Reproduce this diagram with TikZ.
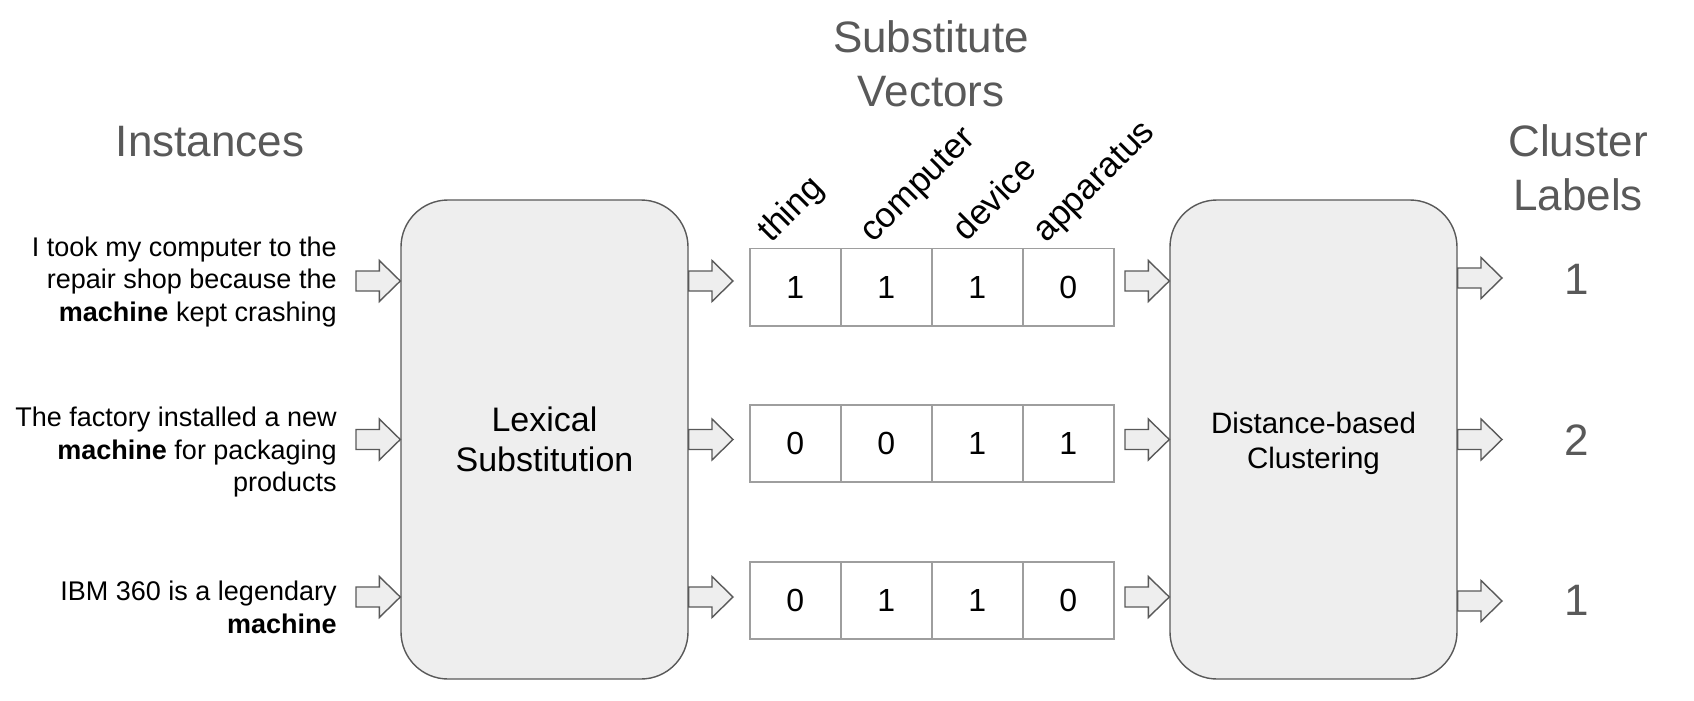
\documentclass[tikz,border=0pt]{standalone}
\usepackage{fontspec}
\setmainfont{Liberation Sans}
\usetikzlibrary{calc}
\definecolor{tgray}{HTML}{595959}
\definecolor{bfill}{HTML}{EEEEEE}
\definecolor{cellline}{HTML}{9E9E9E}
\newcommand{\blockarrow}[2]{%
  \draw[barrow] let \p1=(#1), \p2=(#2) in
    (\x1,\y2+5pt) -- (\x2-10.5pt,\y2+5pt) -- (\x2-10.5pt,\y2+10.25pt) -- (\x2,\y2)
    -- (\x2-10.5pt,\y2-10.25pt) -- (\x2-10.5pt,\y2-5pt) -- (\x1,\y2-5pt) -- cycle;}
\begin{document}
\begin{tikzpicture}[x=0.5pt,y=-0.5pt,
  title/.style={text=tgray, font=\fontsize{22}{26}\selectfont, inner sep=0, align=center},
  procbox/.style={draw=tgray, fill=bfill, line width=0.7pt, rounded corners=23.5pt,
    minimum width=143.5pt, minimum height=239.5pt, align=center, inner sep=0},
  boxtext/.style={align=center, inner sep=0},
  cellbox/.style={draw=cellline, line width=0.75pt, minimum width=45.5pt, minimum height=38.5pt,
    inner sep=0, anchor=north west, font=\fontsize{16}{19}\selectfont},
  inst/.style={font=\fontsize{13.5}{16.25}\selectfont, align=right, inner sep=0, anchor=north east},
  rotlab/.style={rotate=45, anchor=base west, inner sep=0, font=\fontsize{17.5}{21}\selectfont},
  clab/.style={text=tgray, font=\fontsize{22}{26}\selectfont, inner sep=0},
  barrow/.style={draw=tgray, fill=bfill, line width=0.7pt, line join=miter}
]
\useasboundingbox (0,0) rectangle (1694,701);

% titles
\node[title, anchor=base] (tinst) at (210,156) {Instances};
\node[title, anchor=north, font=\fontsize{22}{27}\selectfont] (tvec) at (931,14.2) {\strut Substitute\\\strut Vectors};
\node[title, anchor=north, font=\fontsize{22}{27}\selectfont] (tlab) at (1578,118.2) {\strut Cluster\\\strut Labels};

% instances
\node[inst] (s1) at (337,233) {\strut I took my computer to the\\\strut repair shop because the\\\strut\textbf{machine} kept crashing};
\node[inst] (s2) at (337,403.5) {\strut The factory installed a new\\\strut\textbf{machine} for packaging\\\strut products};
\node[inst] (s3) at (337,577.5) {\strut IBM 360 is a legendary\\\strut\textbf{machine}};

% process boxes
\node[procbox] (lex) at (544.5,439.5) {};
\node[boxtext, font=\fontsize{17}{19.7}\selectfont] (lextext) at (lex.center) {Lexical\\Substitution};
\node[procbox] (clus) at (1313.5,439.5) {};
\node[boxtext, font=\fontsize{14.75}{17.5}\selectfont] (clustext) at ($(clus.center)+(0,4)$) {Distance-based\\Clustering};

% vector cells
\foreach \r/\ty/\a/\b/\c/\d in {1/248/1/1/1/0, 2/404/0/0/1/1, 3/561/0/1/1/0}{
  \node[cellbox] (v\r1) at (749,\ty) {\a};
  \node[cellbox] (v\r2) at (840,\ty) {\b};
  \node[cellbox] (v\r3) at (931,\ty) {\c};
  \node[cellbox] (v\r4) at (1022,\ty) {\d};
}

% rotated headers
\node[rotlab] (h1) at (771,244) {thing};
\node[rotlab] (h2) at (873,244) {computer};
\node[rotlab] (h3) at (966,243) {device};
\node[rotlab] (h4) at (1046,244) {apparatus};

% cluster labels
\node[clab] (l1) at (1577,279) {1};
\node[clab] (l2) at (1577,440) {2};
\node[clab] (l3) at (1577,600) {1};

% arrow coordinates
\foreach \i/\y/\yo in {1/281/278, 2/439.5/439.5, 3/597/601}{
  \coordinate (it\i) at (356,\y);
  \coordinate (vt\i) at (733,\y);
  \coordinate (ct\i) at (1125,\y);
  \coordinate (ot\i) at (1502,\yo);
}
\foreach \i in {1,2,3}{
  \blockarrow{it\i}{lex.west |- it\i}
  \blockarrow{lex.east |- vt\i}{vt\i}
  \blockarrow{ct\i}{clus.west |- ct\i}
  \blockarrow{clus.east |- ot\i}{ot\i}
}
\end{tikzpicture}
\end{document}
